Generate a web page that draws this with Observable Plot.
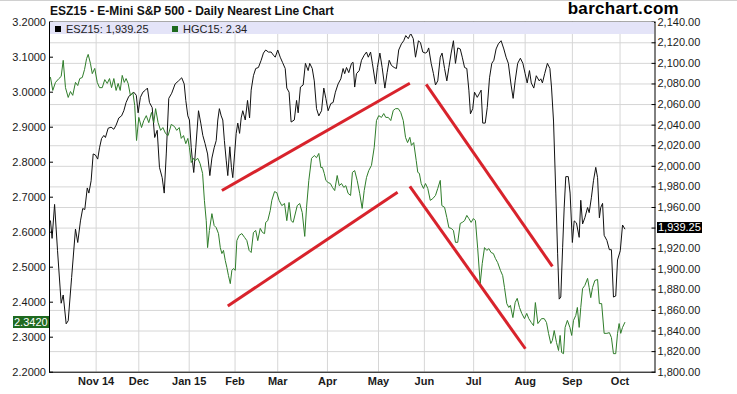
<!DOCTYPE html>
<html><head><meta charset="utf-8">
<script src="https://cdn.jsdelivr.net/npm/d3@7"></script>
<script src="https://cdn.jsdelivr.net/npm/@observablehq/plot@0.6"></script>
<style>
html,body{margin:0;padding:0;background:#fff;}
#wrap{position:relative;width:737px;height:394px;overflow:hidden;font-family:"Liberation Sans",Arial,sans-serif;}
#wrap svg{position:absolute;left:0;top:0;}
.abs{position:absolute;white-space:nowrap;line-height:normal;}
</style></head>
<body><div id="wrap"></div>
<script>
// ---- data (x = trading-session number from start of chart) ----
const monthT = [20.1, 38.9, 61.1, 81.3, 100.1, 122, 144.5, 164.7, 186.4, 209.1, 229.9, 250.9];
const monthLabels = ["Nov 14","Dec","Jan 15","Feb","Mar","Apr","May","Jun","Jul","Aug","Sep","Oct"];
const esTicks = d3.range(1800, 2141, 20);
const hgTicks = d3.range(22, 33).map(d => d / 10);

// ESZ15 (E-Mini S&P 500), right axis
const esSeries = [[0,1947],[0.7,1930],[1.8,1963],[3.1,1918],[4.7,1867],[5.6,1875],[6.9,1847],[7.8,1850],[9.3,1892],[11.0,1939],[12.0,1926],[13.2,1947],[14.2,1959],[15.1,1958],[16.2,1979],[16.9,1974],[17.9,1986],[18.8,2012],[19.8,2011],[20.8,2007],[21.6,2018],[22.5,2027],[23.5,2030],[24.2,2028],[25.4,2037],[26.7,2038],[27.9,2036],[28.9,2040],[30.1,2047],[31.3,2049],[32.3,2054],[33.3,2062],[34.5,2068],[35.7,2070],[36.7,2072],[37.8,2069],[38.6,2052],[39.6,2067],[40.7,2072],[41.8,2074],[42.7,2076],[43.6,2062],[44.8,2057],[45.9,2028],[47.0,2035],[48.0,1999],[49.2,1989],[50.1,1974],[51.0,2012],[52.1,2066],[53.4,2071],[54.9,2080],[56.4,2083],[57.8,2086],[58.9,2080],[59.6,2064],[60.5,2049],[61.2,2045],[62.0,2018],[62.6,2004],[63.1,1994],[64.0,2018],[65.2,2054],[66.2,2042],[67.1,2030],[68.1,2022],[69.2,2012],[70.2,1991],[71.1,2008],[72.1,2018],[73.0,2025],[73.7,2045],[74.4,2056],[75.2,2049],[75.9,2045],[76.6,2025],[77.4,2006],[78.1,1991],[79.0,2019],[79.7,1999],[80.3,1989],[81.1,2012],[81.8,2032],[82.5,2042],[83.3,2032],[84.0,2047],[84.7,2054],[85.8,2045],[86.8,2064],[87.7,2047],[88.4,2074],[89.4,2088],[90.4,2095],[91.6,2096],[92.8,2103],[93.8,2110],[94.8,2113],[96.0,2111],[97.2,2111],[98.2,2108],[99.0,2106],[100.1,2113],[101.2,2106],[102.2,2101],[103.4,2095],[104.1,2076],[105.1,2072],[106.0,2043],[107.4,2045],[108.4,2064],[109.1,2052],[110.1,2077],[111.3,2079],[112.3,2100],[113.5,2093],[114.2,2100],[115.3,2095],[116.2,2083],[117.2,2056],[118.2,2049],[119.4,2054],[120.4,2076],[121.3,2066],[122.3,2054],[123.5,2061],[124.5,2062],[125.5,2072],[126.7,2080],[127.9,2085],[128.9,2095],[129.6,2090],[130.4,2096],[131.4,2091],[132.6,2100],[133.3,2101],[134.0,2077],[134.8,2090],[136.0,2093],[137.0,2103],[138.2,2108],[139.2,2111],[140.0,2106],[141.0,2111],[141.8,2100],[143.2,2080],[144.0,2096],[145.1,2110],[146.1,2096],[147.3,2076],[148.3,2091],[149.2,2103],[150.2,2098],[151.4,2096],[152.4,2095],[153.4,2113],[154.6,2119],[155.6,2122],[156.5,2127],[157.6,2124],[158.7,2129],[159.8,2124],[160.8,2106],[162.1,2122],[163.0,2120],[164.0,2111],[165.1,2110],[165.9,2111],[166.6,2115],[167.7,2100],[168.7,2090],[169.6,2079],[170.6,2083],[171.7,2106],[172.5,2110],[173.6,2095],[174.6,2083],[175.5,2096],[176.5,2110],[177.5,2122],[178.4,2100],[179.4,2115],[180.5,2114],[181.4,2106],[182.4,2096],[183.4,2095],[184.3,2074],[185.0,2051],[186.0,2056],[186.8,2072],[188.0,2067],[189.0,2071],[189.7,2074],[190.4,2042],[191.5,2042],[192.4,2057],[193.4,2086],[194.4,2100],[195.3,2103],[196.3,2114],[197.3,2119],[198.5,2122],[199.7,2114],[200.7,2106],[201.7,2100],[202.9,2079],[203.8,2066],[204.7,2083],[205.8,2100],[207.0,2105],[208.1,2100],[209.1,2090],[210.0,2081],[211.0,2093],[211.8,2081],[212.9,2076],[214.0,2088],[215.3,2083],[216.0,2085],[216.7,2081],[217.7,2090],[218.9,2100],[220.0,2095],[220.7,2077],[221.6,2044],[222.6,1974],[223.4,1915],[224.1,1871],[224.8,1873],[225.6,1921],[226.3,1960],[227.0,1990],[228.1,1990],[228.9,1974],[229.9,1926],[230.7,1947],[231.7,1945],[232.9,1931],[233.6,1967],[234.4,1944],[235.4,1950],[236.6,1960],[237.3,1955],[238.3,1970],[239.2,1986],[240.2,1999],[241.0,1989],[241.8,1950],[242.4,1960],[243.2,1964],[243.9,1933],[245.1,1928],[246.2,1919],[247.1,1919],[248.0,1873],[249.0,1874],[249.8,1909],[251.0,1918],[252.0,1943],[253.0,1939.25]];

// HGC15 (Copper), left axis
const hgSeries = [[0,3.042],[1.0,3.005],[2.2,3.028],[3.7,3.039],[4.7,3.045],[5.6,3.091],[6.6,3.013],[7.8,2.985],[8.8,3.002],[9.8,2.991],[11.0,3.028],[12.0,3.019],[12.9,3.039],[14.0,3.042],[15.0,3.065],[15.9,3.096],[16.6,3.108],[17.6,3.082],[18.4,3.053],[19.5,3.068],[20.6,3.028],[21.6,3.013],[22.8,3.013],[23.9,3.036],[25.0,3.025],[26.0,3.039],[26.9,3.013],[27.9,3.039],[28.9,3.005],[29.8,3.025],[30.7,3.005],[31.6,3.048],[32.5,3.028],[33.3,3.039],[34.2,3.025],[35.2,2.991],[36.3,2.999],[37.1,2.962],[37.9,2.862],[38.9,2.928],[40.1,2.899],[41.1,2.919],[42.2,2.933],[43.3,2.913],[44.5,2.942],[45.5,2.913],[46.3,2.953],[47.4,2.913],[48.5,2.891],[49.5,2.899],[50.7,2.882],[51.8,2.876],[53.2,2.908],[54.6,2.902],[55.6,2.891],[56.7,2.899],[57.6,2.868],[58.6,2.876],[59.6,2.853],[60.5,2.868],[61.2,2.842],[62.0,2.799],[63.0,2.811],[63.7,2.805],[64.9,2.811],[65.9,2.796],[67.0,2.768],[67.8,2.691],[68.6,2.633],[69.2,2.556],[70.0,2.605],[71.1,2.653],[72.1,2.619],[73.0,2.613],[74.0,2.596],[74.8,2.556],[75.5,2.539],[76.2,2.548],[77.0,2.519],[77.7,2.499],[78.4,2.476],[79.2,2.453],[79.9,2.491],[80.6,2.496],[81.4,2.491],[82.1,2.576],[83.1,2.591],[84.3,2.596],[85.5,2.585],[86.5,2.576],[87.5,2.548],[88.4,2.542],[89.4,2.599],[90.4,2.605],[91.3,2.576],[92.4,2.611],[93.4,2.599],[94.3,2.596],[94.8,2.628],[95.7,2.633],[96.8,2.662],[97.5,2.691],[98.7,2.716],[99.7,2.713],[100.7,2.691],[101.9,2.676],[103.1,2.682],[104.1,2.633],[105.1,2.685],[106.0,2.633],[106.9,2.628],[108.7,2.676],[109.8,2.682],[110.9,2.656],[112.0,2.588],[112.8,2.671],[113.8,2.748],[115.0,2.811],[116.2,2.819],[117.2,2.813],[118.2,2.825],[119.1,2.785],[119.8,2.785],[120.6,2.768],[121.3,2.748],[122.3,2.742],[123.3,2.739],[124.2,2.728],[125.2,2.719],[126.3,2.762],[127.2,2.733],[128.2,2.739],[129.2,2.728],[130.1,2.733],[131.1,2.711],[132.2,2.705],[133.0,2.771],[134.0,2.776],[135.1,2.748],[136.2,2.711],[137.3,2.668],[138.2,2.719],[139.2,2.756],[140.2,2.776],[141.4,2.791],[142.6,2.842],[143.6,2.919],[144.6,2.933],[145.8,2.928],[146.8,2.939],[147.7,2.928],[148.8,2.928],[149.9,2.919],[151.0,2.948],[152.0,2.953],[153.2,2.953],[154.3,2.942],[155.4,2.919],[156.4,2.871],[157.3,2.856],[158.3,2.871],[159.0,2.848],[160.0,2.856],[161.1,2.805],[161.8,2.771],[162.5,2.768],[163.3,2.739],[164.3,2.725],[165.2,2.739],[166.2,2.725],[167.3,2.691],[168.4,2.696],[169.6,2.705],[170.6,2.725],[171.7,2.748],[172.4,2.676],[173.6,2.671],[174.6,2.642],[175.5,2.613],[176.5,2.611],[177.5,2.605],[178.4,2.571],[179.4,2.571],[180.5,2.625],[181.4,2.628],[182.4,2.633],[183.4,2.648],[184.3,2.639],[185.3,2.628],[186.3,2.639],[187.2,2.633],[188.2,2.553],[189.3,2.453],[190.2,2.511],[191.2,2.556],[192.2,2.548],[193.1,2.553],[194.1,2.542],[195.1,2.539],[196.0,2.525],[197.0,2.513],[198.2,2.491],[199.2,2.476],[200.0,2.442],[201.0,2.396],[201.9,2.385],[202.6,2.391],[203.7,2.356],[204.7,2.399],[205.6,2.411],[206.6,2.385],[207.6,2.368],[208.8,2.353],[209.8,2.368],[210.7,2.353],[211.8,2.342],[212.8,2.333],[213.6,2.399],[214.7,2.339],[216.3,2.353],[217.5,2.353],[218.5,2.342],[219.4,2.311],[220.4,2.282],[221.1,2.291],[221.9,2.319],[222.9,2.285],[223.8,2.262],[224.5,2.305],[225.2,2.256],[226.0,2.253],[226.7,2.328],[227.7,2.348],[228.8,2.328],[229.6,2.305],[230.4,2.348],[231.4,2.362],[232.1,2.385],[232.9,2.328],[233.6,2.385],[234.4,2.439],[235.4,2.448],[236.6,2.468],[237.3,2.442],[238.0,2.413],[238.8,2.442],[239.8,2.462],[241.0,2.465],[241.8,2.396],[242.8,2.396],[243.9,2.311],[245.1,2.311],[246.2,2.313],[247.1,2.299],[248.0,2.253],[249.0,2.253],[249.8,2.311],[250.5,2.339],[251.2,2.311],[252.0,2.328],[253.0,2.342]];

// hand-drawn trend lines (session, value)
const esTrend = [{t1:75.5, v1:1976.5, t2:158.3, v2:2080.7}, {t1:165.5, v1:2079.5, t2:221.1, v2:1902.7}];
const hgTrend = [{t1:78.1, v1:2.389, t2:152.9, v2:2.714}, {t1:158.3, v1:2.731, t2:209.2, v2:2.267}];

const esLast = 1939.25, hgLast = 2.342;
// ---------------------------------------------------------------

const W = 737, H = 394;
const mT = 21.7, mB = 22.3, mL = 49, mR = 82.5;
const xDomain = [-0.44, 266.3];
const font = {fontFamily: '"Liberation Sans", Arial, sans-serif', fontSize: "11px", color: "#1a1a1a"};
const es = esSeries.map(([t, v]) => ({t, v}));
const hg = hgSeries.map(([t, v]) => ({t, v}));
const monthMap = new Map(monthT.map((t, i) => [t, monthLabels[i]]));
const fmtES = d3.format(",.2f"), fmtHG = d3.format(".4f");
const gridC = "#d6d6d6", red = "#d8232c", green = "#2f7d2a";

const plotA = Plot.plot({
  width: W, height: H, marginTop: mT, marginBottom: mB, marginLeft: mL, marginRight: mR,
  x: {domain: xDomain, axis: null},
  y: {domain: [1800, 2140], axis: null},
  style: {...font, background: "white"},
  marks: [
    Plot.gridY(esTicks, {stroke: gridC, strokeOpacity: 1}),
    Plot.gridX(monthT, {stroke: gridC, strokeOpacity: 1}),
    Plot.line(es, {x: "t", y: "v", stroke: "#111", strokeWidth: 1}),
    Plot.link(esTrend, {x1: "t1", y1: "v1", x2: "t2", y2: "v2", stroke: red, strokeWidth: 3}),
    Plot.axisY(esTicks, {anchor: "right", tickSize: -4, tickPadding: 6.5, stroke: "#000",
      tickFormat: d => d === 1940 ? "" : fmtES(d), label: null}),
    Plot.axisX(monthT, {anchor: "bottom", tickSize: 0, tickPadding: 5, fontWeight: "bold",
      tickFormat: d => monthMap.get(d), label: null}),
    Plot.frame({stroke: "#000"})
  ]
});

const plotB = Plot.plot({
  width: W, height: H, marginTop: mT, marginBottom: mB, marginLeft: mL, marginRight: mR,
  x: {domain: xDomain, axis: null},
  y: {domain: [2.2, 3.2], axis: null},
  style: {...font, background: "transparent"},
  marks: [
    Plot.line(hg, {x: "t", y: "v", stroke: green, strokeWidth: 1}),
    Plot.link(hgTrend, {x1: "t1", y1: "v1", x2: "t2", y2: "v2", stroke: red, strokeWidth: 3}),
    Plot.axisY(hgTicks, {anchor: "left", tickSize: -4, tickPadding: 7.5, stroke: "#000",
      tickFormat: fmtHG, label: null})
  ]
});

const wrap = document.getElementById("wrap");
wrap.appendChild(plotA);
wrap.appendChild(plotB);

function add(html, css) {
  const d = document.createElement("div");
  d.className = "abs";
  d.innerHTML = html;
  Object.assign(d.style, css);
  wrap.appendChild(d);
  return d;
}
// top rule
add("", {left: "0px", top: "0px", width: "737px", height: "1px", background: "#d0d0d0"});
// title
add("ESZ15 - E-Mini S&amp;P 500 - Daily Nearest Line Chart",
  {left: "50px", top: "3.6px", fontSize: "12px", fontWeight: "bold", color: "#111"});
add("barchart.com",
  {right: "58px", top: "3px", height: "12px", lineHeight: "12px", fontSize: "17px", fontWeight: "bold", color: "#000", letterSpacing: "0.3px"});
// legend band
add("", {left: "49.5px", top: "22px", width: "604px", height: "12px", background: "#e4e4f8"});
add("", {left: "55px", top: "26px", width: "6px", height: "6px", background: "#000"});
add("ESZ15: " + fmtES(esLast), {left: "66px", top: "23px", fontSize: "11px", color: "#222"});
add("", {left: "172px", top: "26px", width: "6px", height: "6px", background: "#1f6a1f"});
add("HGC15: " + d3.format(".2f")(hgLast), {left: "183px", top: "23px", fontSize: "11px", color: "#222"});
// last-value tags positioned with the plots' own scales
const yHG = plotB.scale("y").apply(hgLast);
const yES = plotA.scale("y").apply(esLast);
add(fmtHG(hgLast), {left: "13px", top: (yHG - 6.5) + "px", height: "12px", lineHeight: "12px", padding: "0 1px",
  fontSize: "11px", color: "#fff", background: "#1f6a1f"});
add(fmtES(esLast), {left: "657px", top: (yES - 6) + "px", height: "11px", lineHeight: "11px", padding: "0 1px",
  fontSize: "11px", color: "#fff", background: "#000"});
</script>
</body></html>
